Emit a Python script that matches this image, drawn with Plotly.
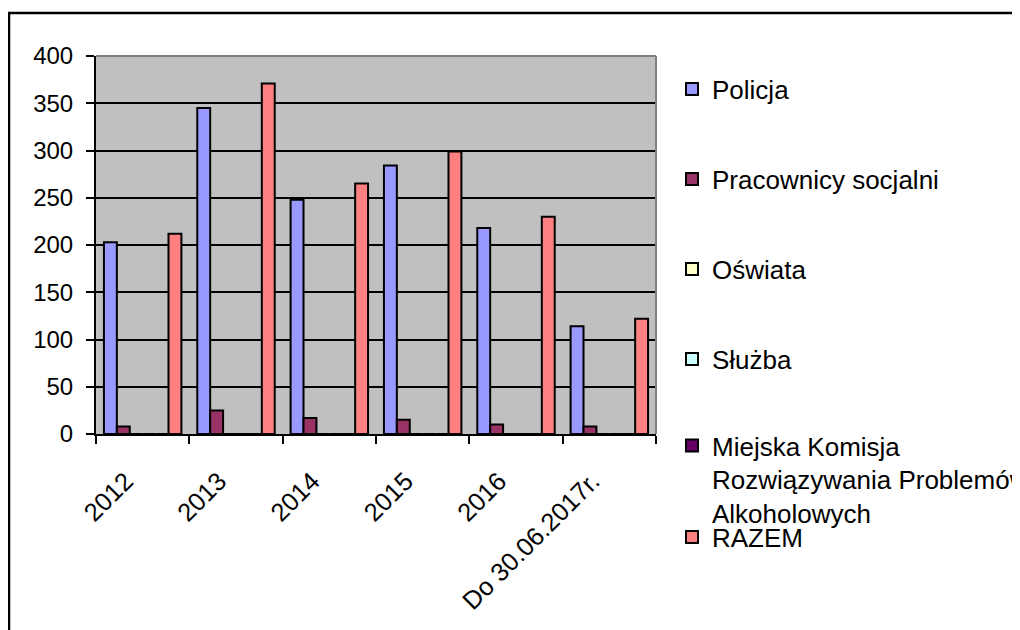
import plotly.graph_objects as go

categories = ["2012", "2013", "2014", "2015", "2016", "Do 30.06.2017r."]
policja = [203, 345, 248, 284, 218, 114]
pracownicy = [8, 25, 17, 15, 10, 8]
oswiata = [0, 0, 0, 0, 0, 0]
sluzba = [0, 0, 0, 0, 0, 0]
komisja = [0, 0, 0, 0, 0, 0]
razem = [212, 371, 265, 299, 230, 122]

series = [
    ("Policja", policja, "#9999FF"),
    ("Pracownicy socjalni", pracownicy, "#993366"),
    ("Oświata", oswiata, "#FFFFCC"),
    ("Służba", sluzba, "#CCFFFF"),
    ("Miejska Komisja<br>Rozwiązywania Problemów<br>Alkoholowych", komisja, "#660066"),
    ("RAZEM", razem, "#FF8080"),
]

OFF = 8  # page body margin
W, H = 1012, 622
L, R, T, B = 88, 364, 48, 196
pw, ph = W - L - R, H - T - B

def px_x(x):
    return (x - OFF - L) / pw

def px_y(y):
    return (H - B - (y - OFF)) / ph

FONT = "Liberation Sans, Arial, sans-serif"

fig = go.Figure()
legend_y_px = [89, 179, 269, 359, 448, 537]
layout_legends = {}
for i, (name, vals, col) in enumerate(series):
    lname = "legend" if i == 0 else f"legend{i+1}"
    fig.add_trace(go.Bar(
        x=categories, y=vals, name=name,
        marker=dict(color=col, line=dict(color="black", width=2)),
        legend=lname,
    ))
    multiline = "<br>" in name
    layout_legends[lname] = dict(
        x=px_x(672), xanchor="left",
        y=px_y(legend_y_px[i] - (26 if multiline else 0)),
        yanchor="top" if multiline else "middle",
        valign="top",
        font=dict(family=FONT, size=26, color="black"),
        bgcolor="rgba(0,0,0,0)", borderwidth=0,
    )

fig.update_layout(
    width=W, height=H,
    margin=dict(l=L, r=R, t=T, b=B, autoexpand=False),
    paper_bgcolor="white",
    plot_bgcolor="#C0C0C0",
    barmode="group",
    bargap=0.17,
    bargroupgap=0,
    showlegend=True,
    font=dict(family=FONT, size=24, color="black"),
    xaxis=dict(
        type="category",
        tickangle=-45,
        ticks="outside", ticklen=8, tickwidth=2, tickcolor="black",
        tickson="boundaries",
        ticklabelstandoff=20, ticklabelshift=-17,
        showgrid=False,
        showline=True, linecolor="black", linewidth=2,
        tickfont=dict(family=FONT, size=25.5, color="black"),
    ),
    yaxis=dict(
        range=[0, 400], dtick=50,
        ticks="outside", ticklen=8, tickwidth=2, tickcolor="black",
        ticklabelstandoff=8,
        showgrid=True, gridcolor="black", gridwidth=2,
        showline=True, linecolor="black", linewidth=2,
        zeroline=False,
        tickfont=dict(family=FONT, size=24, color="black"),
    ),
    shapes=[
        dict(type="line", xref="paper", yref="paper", x0=0, x1=1, y0=1, y1=1,
             line=dict(color="#808080", width=2), layer="above"),
        dict(type="line", xref="paper", yref="paper", x0=1, x1=1, y0=0, y1=1,
             line=dict(color="#808080", width=2), layer="above"),
        dict(type="rect", xref="paper", yref="paper",
             x0=px_x(9), x1=px_x(1018), y0=px_y(13), y1=px_y(640),
             line=dict(color="black", width=2.5), layer="above"),
    ],
    **layout_legends,
)

fig.write_html("out.html")
